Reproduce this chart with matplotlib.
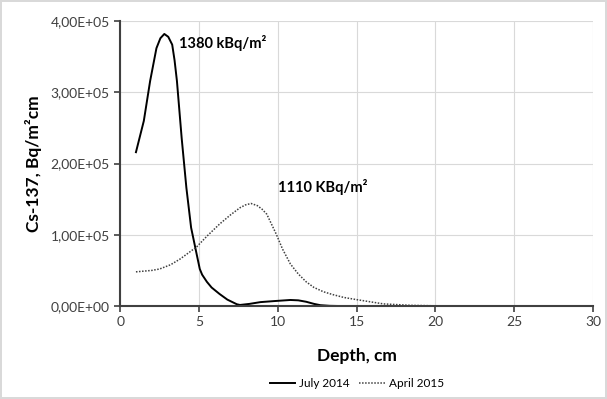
import matplotlib.pyplot as plt
from matplotlib.ticker import FuncFormatter

# values (depth in cm, activity in Bq/m2cm)
july_depth = [1.0, 1.5, 1.9, 2.3, 2.55, 2.8, 3.05, 3.3, 3.45, 3.6, 3.9, 4.2,
              4.5, 4.85, 5.05, 5.2, 5.5, 5.8, 6.3, 6.8, 7.4, 7.6, 8.2, 8.9,
              9.8, 10.8, 11.3, 11.8, 12.3, 12.7, 13.3, 14.0, 18.0, 24.0]
july_vals = [2.16e5, 2.60e5, 3.16e5, 3.62e5, 3.76e5, 3.82e5, 3.78e5, 3.67e5,
             3.45e5, 3.16e5, 2.36e5, 1.66e5, 1.10e5, 0.73e5, 0.52e5, 0.44e5,
             0.34e5, 0.26e5, 0.17e5, 0.09e5, 0.025e5, 0.015e5, 0.03e5,
             0.055e5, 0.07e5, 0.085e5, 0.08e5, 0.06e5, 0.03e5, 0.012e5,
             0.003e5, 0.0, 0.0, 0.0]

april_depth = [1.0, 2.0, 2.5, 3.2, 3.8, 4.85, 5.5, 6.3, 7.0, 7.6, 7.95, 8.3,
               8.7, 9.0, 9.3, 9.9, 10.3, 10.8, 11.3, 11.8, 12.3, 12.9, 13.5,
               14.2, 15.0, 16.7, 18.4, 20.0, 24.0, 28.5]
april_vals = [0.48e5, 0.50e5, 0.52e5, 0.58e5, 0.66e5, 0.83e5, 0.98e5, 1.15e5,
              1.28e5, 1.38e5, 1.42e5, 1.44e5, 1.41e5, 1.36e5, 1.29e5, 1.01e5,
              0.80e5, 0.59e5, 0.45e5, 0.34e5, 0.26e5, 0.20e5, 0.16e5, 0.12e5,
              0.09e5, 0.03e5, 0.01e5, 0.003e5, 0.0, 0.0]

plt.rcParams['font.family'] = ['Lato', 'DejaVu Sans']

fig = plt.figure(figsize=(6.07, 3.99), dpi=100)
fig.patch.set_edgecolor('#d9d9d9')
fig.patch.set_linewidth(1.5)
ax = fig.add_axes([0.198, 0.233, 0.779, 0.714])

ax.plot(july_depth, july_vals, color='black', lw=1.4, label='July 2014')
ax.plot(april_depth, april_vals, color='#404040', lw=1.1, ls=(0, (1, 1)),
        label='April 2015')

ax.set_xlim(0, 30)
ax.set_ylim(0, 4e5)
ax.set_xticks(range(0, 31, 5))
ax.set_yticks([0, 1e5, 2e5, 3e5, 4e5])
ax.yaxis.set_major_formatter(FuncFormatter(
    lambda v, p: ('%.2E' % v).replace('.', ',')))
ax.grid(True, color='#d9d9d9', lw=0.8)
ax.set_axisbelow(True)

for s in ['top', 'right']:
    ax.spines[s].set_visible(False)
for s in ['left', 'bottom']:
    ax.spines[s].set_color('#404040')
    ax.spines[s].set_linewidth(1.5)
ax.tick_params(colors='#404040', labelcolor='#404040', labelsize=10,
               length=4, width=1.2)

ax.set_xlabel('Depth, cm', fontsize=12.5, fontweight='bold', labelpad=14)
ax.set_ylabel('Cs-137, Bq/m²cm', fontsize=12.5, fontweight='bold', labelpad=6)

ax.text(3.7, 3.62e5, '1380 kBq/m²', fontsize=10.5, fontweight='bold')
ax.text(10.0, 1.6e5, '1110 KBq/m²', fontsize=10.5, fontweight='bold')

ax.legend(loc='upper center', bbox_to_anchor=(0.5, -0.215), ncol=2,
          frameon=False, fontsize=8.5, handlelength=2.2, handletextpad=0.3,
          columnspacing=0.8)

fig.savefig('out.png', dpi=100)
